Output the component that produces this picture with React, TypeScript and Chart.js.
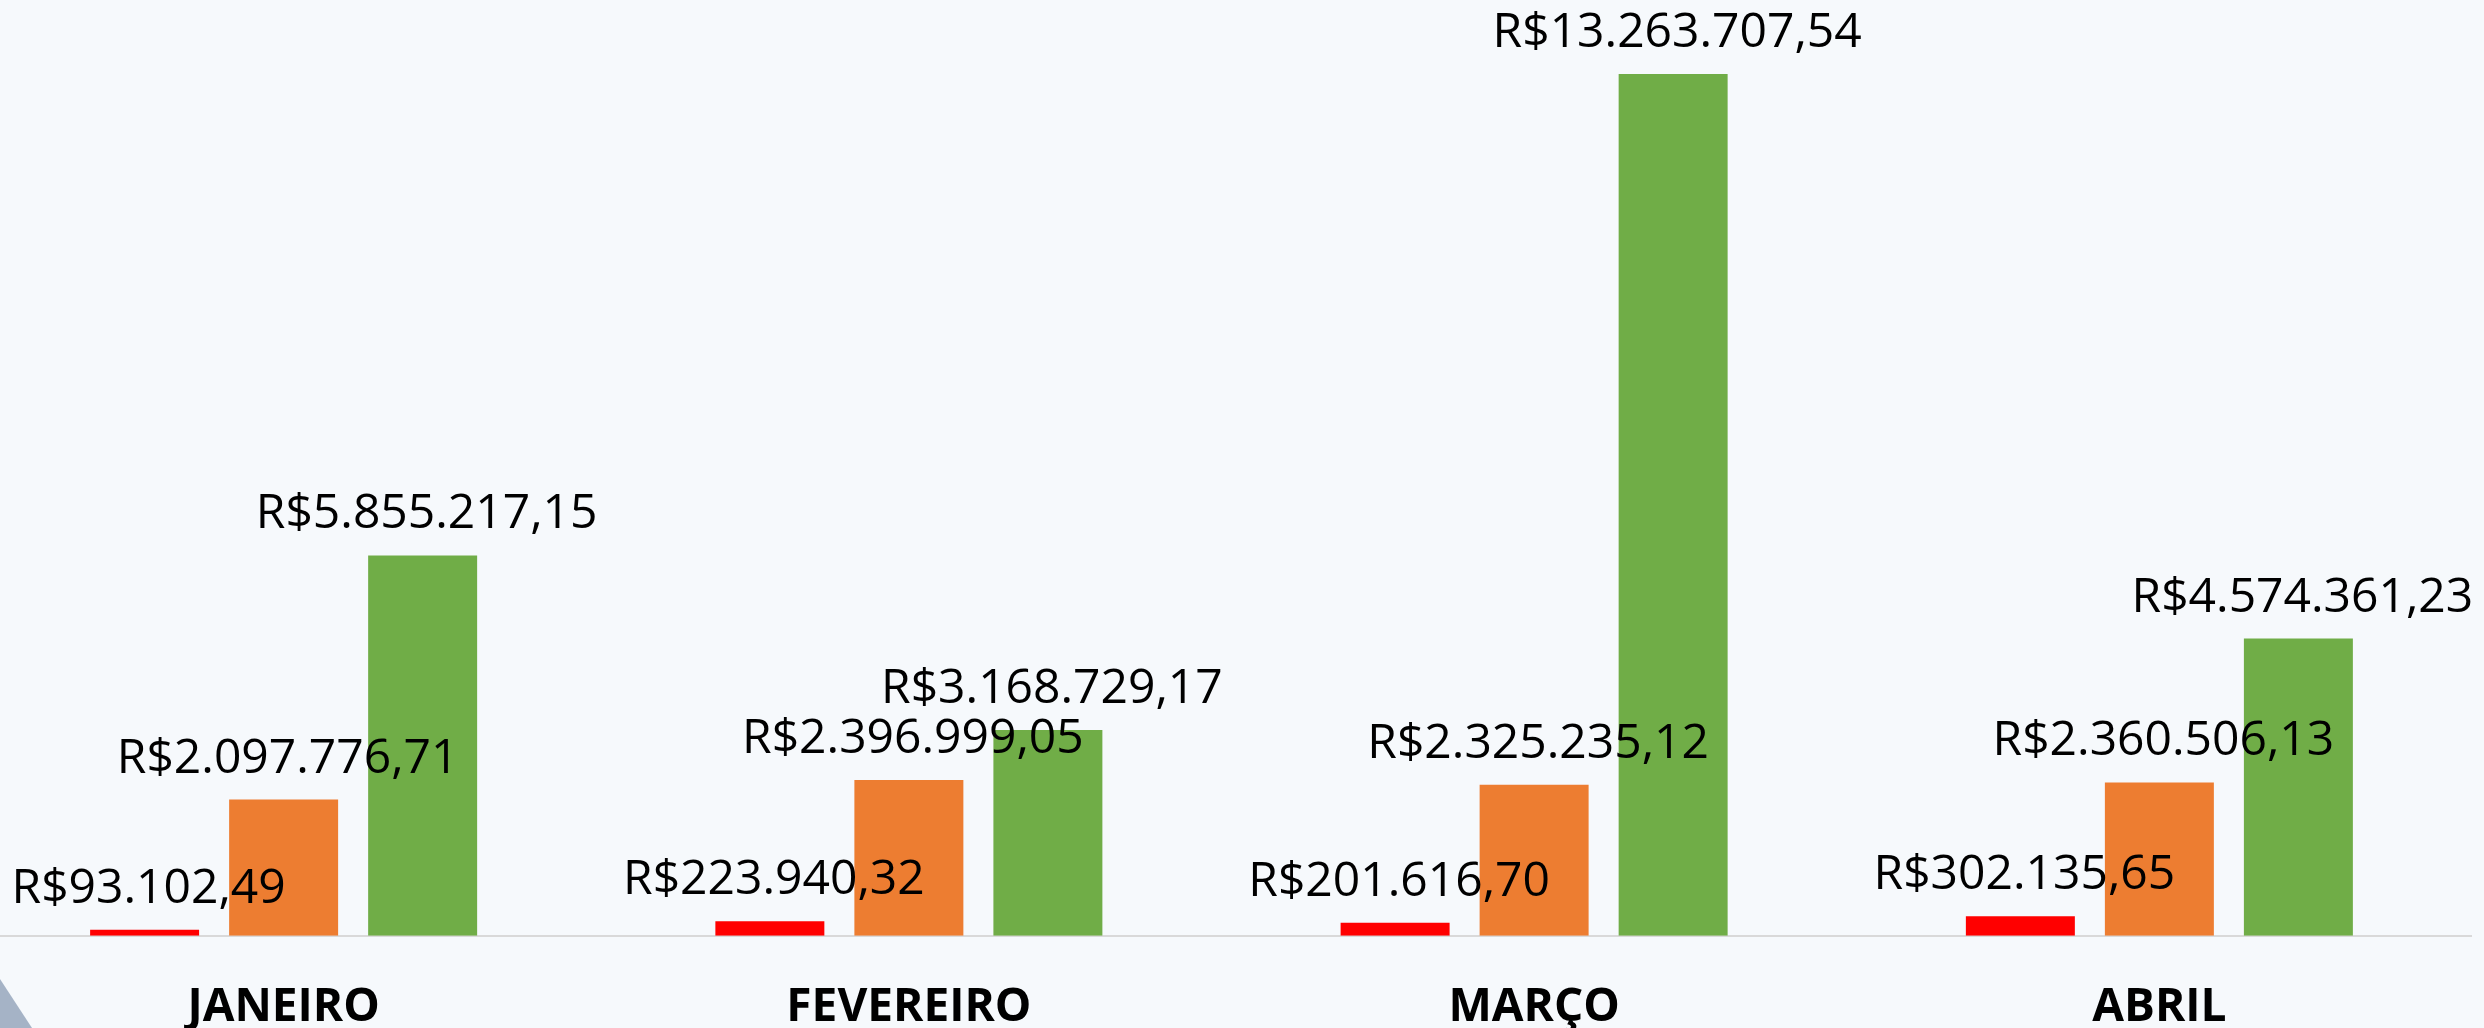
import { useEffect, useRef } from "react";
import { Chart, registerables } from "chart.js";

Chart.register(...registerables);

const categories = ["JANEIRO", "FEVEREIRO", "MARÇO", "ABRIL"];
const redValues = [93102.49, 223940.32, 201616.7, 302135.65];
const orangeValues = [2097776.71, 2396999.05, 2325235.12, 2360506.13];
const greenValues = [5855217.15, 3168729.17, 13263707.54, 4574361.23];
const yMax = 14404000;

function formatBRL(v: number): string {
  const [i, d] = v.toFixed(2).split(".");
  return "R$" + i.replace(/\B(?=(\d{3})+(?!\d))/g, ".") + "," + d;
}

const valueLabels = {
  id: "valueLabels",
  afterDatasetsDraw(chart: any) {
    const ctx = chart.ctx;
    ctx.save();
    ctx.font = '48px "Open Sans"';
    ctx.fillStyle = "#000000";
    ctx.textAlign = "center";
    ctx.textBaseline = "alphabetic";
    chart.data.datasets.forEach((ds: any, di: number) => {
      const meta = chart.getDatasetMeta(di);
      meta.data.forEach((bar: any, i: number) => {
        ctx.fillText(formatBRL(ds.data[i]), bar.x + 4, bar.y - 27);
      });
    });
    ctx.restore();
  },
};

export default function App() {
  const ref = useRef<HTMLCanvasElement | null>(null);
  useEffect(() => {
    if (!ref.current) return;
    const chart = new Chart(ref.current, {
      type: "bar",
      data: {
        labels: categories,
        datasets: [
          { data: redValues, backgroundColor: "#ff0000" },
          { data: orangeValues, backgroundColor: "#ed7d31" },
          { data: greenValues, backgroundColor: "#70ad47" },
        ],
      },
      options: {
        animation: false,
        responsive: true,
        maintainAspectRatio: false,
        layout: { padding: 0 },
        datasets: {
          bar: { categoryPercentage: 0.667, barPercentage: 0.784 },
        },
        plugins: {
          legend: { display: false },
          tooltip: { enabled: false },
        },
        scales: {
          x: {
            grid: { display: false, drawTicks: false },
            border: { display: true, color: "#d9d9d9", width: 2 },
            ticks: {
              color: "#000000",
              padding: 44,
              font: { family: '"Open Sans"', size: 46, weight: "bold" },
            },
          },
          y: {
            display: false,
            min: 0,
            max: yMax,
          },
        },
      },
      plugins: [valueLabels],
    });
    return () => chart.destroy();
  }, []);

  return (
    <div
      style={{
        position: "fixed",
        left: 0,
        top: 0,
        width: "100vw",
        height: "100vh",
        overflow: "hidden",
        background: "#f6f9fc",
      }}
    >
      <div
        style={{
          position: "absolute",
          left: -29,
          top: 0,
          width: 2501,
          height: 1079,
        }}
      >
        <canvas ref={ref} />
      </div>
      <div
        style={{
          position: "absolute",
          left: 0,
          bottom: 0,
          width: 32,
          height: 49,
          background: "#a5b3c6",
          clipPath: "polygon(0 0, 100% 100%, 0 100%)",
        }}
      />
    </div>
  );
}
